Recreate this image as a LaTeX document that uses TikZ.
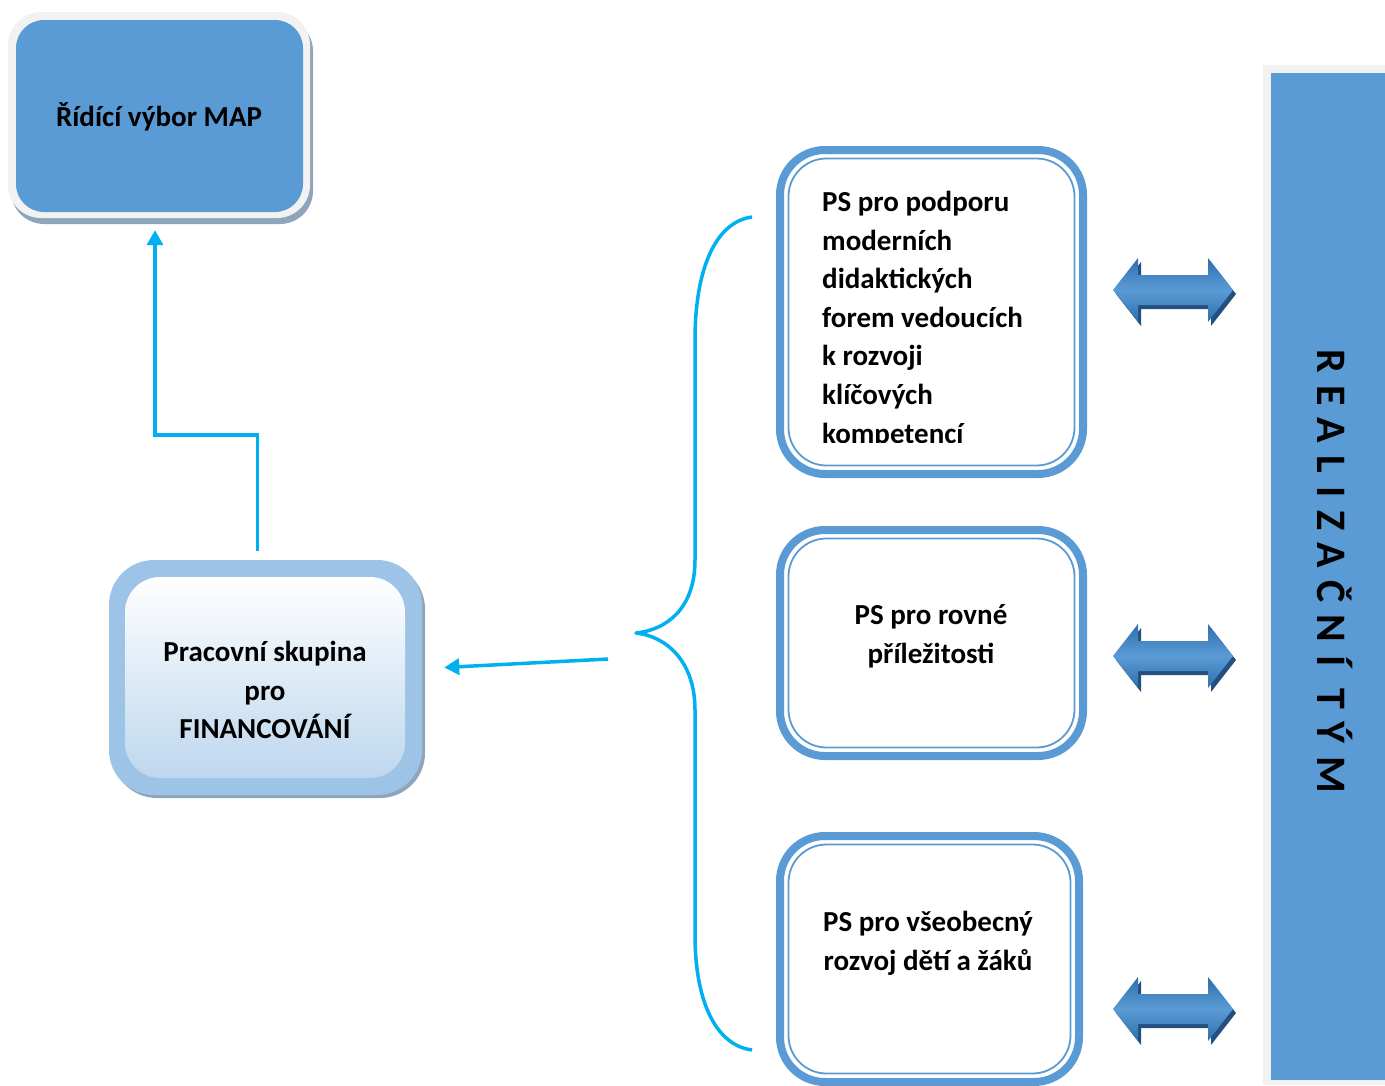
\documentclass[tikz,border=0pt]{standalone}
\usepackage{fontspec}
\setmainfont{Carlito}
\usetikzlibrary{arrows.meta}

\definecolor{mapblue}{HTML}{5B9BD5}
\definecolor{linkcyan}{HTML}{00B0F0}
\definecolor{rimgray}{HTML}{F2F2F2}
\definecolor{shadowgray}{HTML}{8EA5BC}
\definecolor{finouter}{HTML}{9DC3E6}
\definecolor{fininner}{HTML}{BDD7EE}
\definecolor{arrowedge}{HTML}{2E6EAD}
\definecolor{arrowmid}{HTML}{5B9BD5}
\definecolor{arrowdark}{HTML}{23507F}

\tikzset{
  boxtext/.style={font=\fontsize{29}{38.6}\selectfont\bfseries, inner sep=0pt},
  link/.style={draw=linkcyan, line width=3.5pt, -{Triangle[length=15pt,width=16pt]}},
  psframe/.style={draw=mapblue, line width=8pt, fill=white, rounded corners=45pt, inner sep=0pt, outer sep=0pt},
  psinner/.style={draw=mapblue, line width=1.8pt, rounded corners=38pt},
  dblarrow/.pic={
    \fill[arrowdark, shift={(3,4)}] (-60,0) -- (-35,-32) -- (-35,-15) -- (35,-15) -- (35,-32)
      -- (60,0) -- (35,32) -- (35,15) -- (-35,15) -- (-35,32) -- cycle;
    \shade[top color=arrowedge, bottom color=arrowedge, middle color=arrowmid]
      (-60,0) -- (-35,-32) -- (-35,-15) -- (35,-15) -- (35,-32)
      -- (60,0) -- (35,32) -- (35,15) -- (-35,15) -- (-35,32) -- cycle;
  }
}

\begin{document}
\begin{tikzpicture}[x=1pt, y=-1pt]
    \useasboundingbox (0,0) rectangle (1385,1085);
    % steering committee
    \fill[shadowgray, rounded corners=33pt] (11,18) rectangle (313,224);
    \fill[rimgray, rounded corners=33pt] (8,12) rectangle (310,218);
    \node[fill=mapblue, rounded corners=28pt, minimum width=287pt, minimum height=192pt, inner sep=0pt]
        (ridici) at (159.5,116) {};
    \node[boxtext] at (159,117) {Řídící výbor MAP};
    % financing group
    \fill[shadowgray, rounded corners=45pt] (112,564) rectangle (425,798);
    \node[fill=finouter, rounded corners=45pt, minimum width=313pt, minimum height=235pt, inner sep=0pt]
        (fin) at (265.5,677.5) {};
    \shade[top color=white, bottom color=fininner, rounded corners=35pt] (125,577) rectangle (405,778);
    \node[boxtext, align=center] at (265,690) {Pracovní skupina\\pro\\FINANCOVÁNÍ};
    % working groups
    \node[psframe, minimum width=303pt, minimum height=324pt] (ps1) at (931.5,312) {};
    \draw[psinner] ([xshift=8.5pt,yshift=-8.5pt]ps1.north west) rectangle ([xshift=-8.5pt,yshift=8.5pt]ps1.south east);
    \begin{scope}
        \clip (800,160) rectangle (1060,442);
        \node[boxtext, align=left, anchor=north west] at (822,191) {PS pro podporu\\moderních\\didaktických\\forem vedoucích\\k rozvoji\\klíčových\\kompetencí};
    \end{scope}
    \node[psframe, minimum width=303pt, minimum height=226pt] (ps2) at (931.5,643) {};
    \draw[psinner] ([xshift=8.5pt,yshift=-8.5pt]ps2.north west) rectangle ([xshift=-8.5pt,yshift=8.5pt]ps2.south east);
    \node[boxtext, align=center] at (931,636) {PS pro rovné\\příležitosti};
    \node[psframe, minimum width=299pt, minimum height=246pt] (ps3) at (929.5,959) {};
    \draw[psinner] ([xshift=8.5pt,yshift=-8.5pt]ps3.north west) rectangle ([xshift=-8.5pt,yshift=8.5pt]ps3.south east);
    \node[boxtext, align=center] at (928,943) {PS pro všeobecný\\rozvoj dětí a žáků};
    % implementation team
    \fill[rimgray] (1263,65) rectangle (1385,1085);
    \fill[mapblue] (1271,73) rectangle (1385,1080);
    \node[font=\fontsize{42}{42}\selectfont\bfseries\addfontfeature{LetterSpace=30}, rotate=-90]
        (tym) at (1335,571) {REALIZAČNÍ TÝM};
    % double arrows
    \pic (a1) at (1173,290) {dblarrow};
    \pic (a2) at (1173,656) {dblarrow};
    \pic (a3) at (1173,1009) {dblarrow};
    % brace
    \coordinate (tip) at (636,633);
    \draw[linkcyan, line width=3.5pt, line join=round] (752,217) .. controls (715,222) and (695,270) .. (695,340)
        -- (695,560) .. controls (695,610) and (665,630) .. (tip)
        .. controls (665,636) and (695,660) .. (695,710) -- (695,935)
        .. controls (695,1000) and (715,1045) .. (752,1050);
    % connectors
    \coordinate (src) at (608,659);
    \draw[link] (src) -- ([xshift=22pt,yshift=10pt]fin.east);
    \draw[link] ([xshift=-8pt,yshift=9pt]fin.north) -- ++(0,-116) -| ([xshift=-4.5pt,yshift=-18pt]ridici.south);
\end{tikzpicture}
\end{document}
